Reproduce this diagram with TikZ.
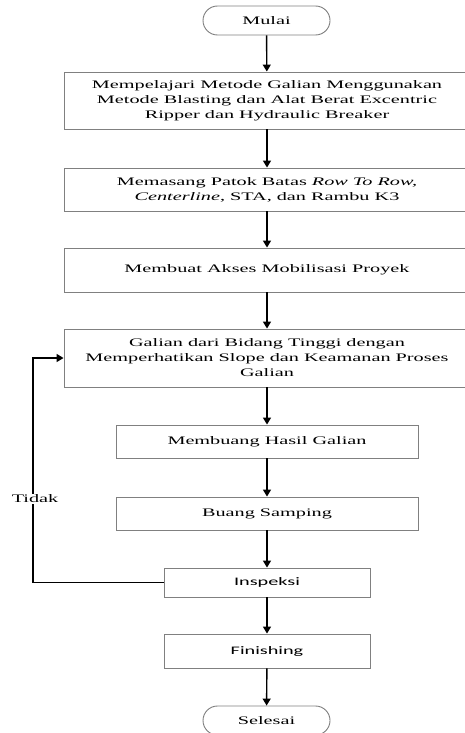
\documentclass[tikz,border=0pt]{standalone}
\usepackage{fontspec}
\setmainfont[FakeStretch=1.76]{Liberation Serif}
\newfontfamily\calfont[FakeStretch=1.76]{Carlito}
\usetikzlibrary{shapes.misc,arrows.meta}
\begin{document}
\begin{tikzpicture}[x=1pt,y=1pt,
  every node/.style={font=\fontsize{11.5}{15}\selectfont},
  box/.style={draw=black!50, line width=0.9pt, rectangle, align=center, inner sep=0pt},
  term/.style={draw=black!50, line width=0.9pt, rounded rectangle, minimum width=127pt, minimum height=29pt, inner sep=0pt},
  arr/.style={draw=black, line width=1.4pt, -{Triangle[width=8pt,length=7pt]}}
]
\clip (0,0) rectangle (465,-733);
\fill[white] (0,0) rectangle (465,-733);
\node[term] (mulai) at (266.5,-20.5) {Mulai};
\node[box, minimum width=406pt, minimum height=57pt] (b1) at (267,-100.5)
  {Mempelajari Metode Galian Menggunakan\\Metode Blasting dan Alat Berat Excentric\\Ripper dan Hydraulic Breaker};
\node[box, minimum width=406pt, minimum height=43pt] (b2) at (267,-189.5)
  {Memasang Patok Batas \textit{Row To Row,}\\\textit{Centerline}, STA, dan Rambu K3};
\node[box, minimum width=406pt, minimum height=44pt] (b3) at (267,-270)
  {Membuat Akses Mobilisasi Proyek};
\node[box, minimum width=406pt, minimum height=58pt] (b4) at (267,-358)
  {Galian dari Bidang Tinggi dengan\\Memperhatikan Slope dan Keamanan Proses\\Galian};
\node[box, minimum width=302pt, minimum height=33pt] (b5) at (267,-441.5)
  {Membuang Hasil Galian};
\node[box, minimum width=302pt, minimum height=33pt] (b6) at (267,-513.5)
  {Buang Samping};
\node[box, minimum width=206pt, minimum height=29pt] (insp) at (267,-582.5)
  {\calfont Inspeksi};
\node[box, minimum width=206pt, minimum height=34pt] (fin) at (267,-651)
  {\calfont Finishing};
\node[term] (sel) at (266.5,-720.5) {Selesai};
\coordinate (c1) at (33,-582.5);
\draw[arr] (mulai) -- (b1);
\draw[arr] (b1) -- (b2);
\draw[arr] (b2) -- (b3);
\draw[arr] (b3) -- (b4);
\draw[arr] (b4) -- (b5);
\draw[arr] (b5) -- (b6);
\draw[arr] (b6) -- (insp);
\draw[arr] (insp) -- (fin);
\draw[arr] (fin) -- (sel);
\draw[arr] (insp.west) -- (c1) |- (b4.west);
\node[fill=white, inner sep=1pt] (tidak) at (35,-499) {Tidak};
\end{tikzpicture}
\end{document}
